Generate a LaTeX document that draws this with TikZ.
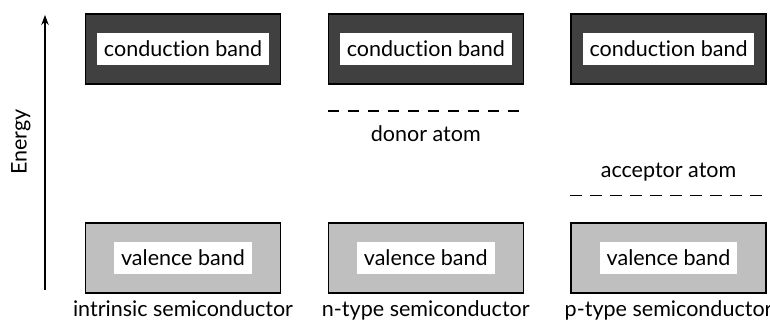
\documentclass[tikz,border=0pt]{standalone}
\usepackage{fontspec}
\setmainfont{Lato}[Ligatures=NoCommon]
\usetikzlibrary{arrows.meta, positioning, calc}

\begin{document}
\begin{tikzpicture}[node distance=0.74cm, font=\fontsize{9.8}{12}\selectfont,
  condbox/.style={draw, line width=0.7pt, fill=black!75, minimum width=3.12cm, minimum height=1.12cm},
  valbox/.style={draw, line width=0.7pt, fill=black!25, minimum width=3.12cm, minimum height=1.12cm},
  bandtext/.style={fill=white, inner xsep=0.11cm, inner ysep=0pt, minimum height=0.5cm},
  caption/.style={inner sep=0pt},
  level/.style={dash pattern=on 0.19cm off 0.13cm, line width=0.7pt},
  arrow/.style={-{Stealth[length=1.6mm, width=1.2mm]}, line width=0.6pt}]
\useasboundingbox (0,0) rectangle (12.32,5.152);
% conduction bands
\node[condbox] (cb1) at (2.928,4.368) {};
\node[condbox, right=of cb1] (cb2) {};
\node[condbox, right=of cb2] (cb3) {};
% valence bands
\node[valbox, below=2.2cm of cb1] (vb1) {};
\node[valbox, below=2.2cm of cb2] (vb2) {};
\node[valbox, below=2.2cm of cb3] (vb3) {};
\foreach \i in {1,2,3} {
  \node[bandtext] (ct\i) at (cb\i) {conduction band};
  \node[bandtext] (vt\i) at (vb\i) {valence band};
}
% captions
\node[caption, below=0.1cm of vb1] (intr) {intrinsic semiconductor};
\node[caption, below=0.1cm of vb2] (ntype) {n-type semiconductor};
\node[caption, below=0.1cm of vb3] (ptype) {p-type semiconductor};
% donor level
\coordinate[below=0.42cm of cb2.south west] (dn1);
\coordinate[below=0.42cm of cb2.south east] (dn2);
\draw[level] (dn1) -- (dn2);
\node[caption] (donor) at ($(cb2.south)+(0,-0.785)$) {donor atom};
% acceptor level
\coordinate[above=0.43cm of vb3.north west] (ac1);
\coordinate[above=0.43cm of vb3.north east] (ac2);
\draw[level] (ac1) -- (ac2);
\node[caption] (acceptor) at ($(vb3.north)+(0,0.8)$) {acceptor atom};
% energy axis
\coordinate (e0) at (0.72,0.512);
\coordinate (e1) at (0.72,4.912);
\draw[arrow] (e0) -- (e1);
\node[rotate=90] (energy) at (0.336,2.88) {Energy};
\end{tikzpicture}
\end{document}
